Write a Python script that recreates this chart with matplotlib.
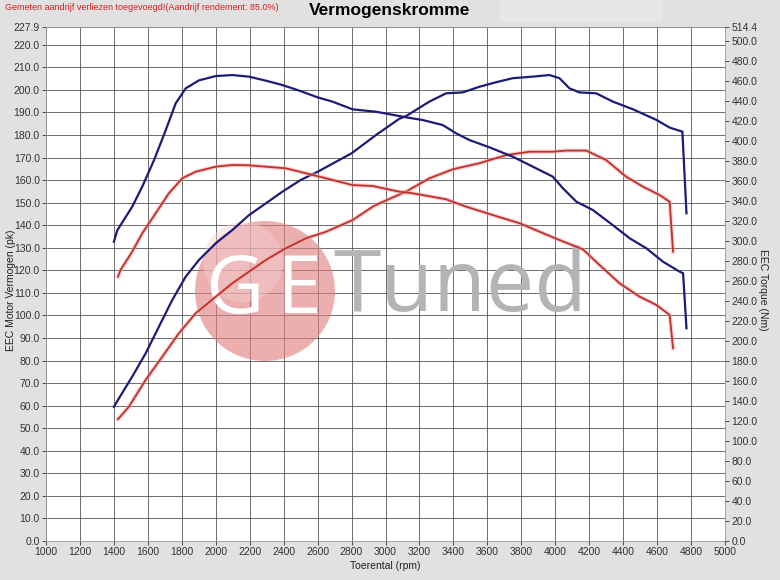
import numpy as np
import matplotlib
matplotlib.use("Agg")
import matplotlib.pyplot as plt
from matplotlib.patches import Ellipse, Rectangle

plt.rcParams['font.family'] = ['Liberation Sans', 'DejaVu Sans']

# tuned power (pk), left axis
tuned_pwr_rpm = [1400, 1430, 1508, 1587, 1665, 1744, 1823, 1901, 2000, 2098, 2196, 2295, 2393, 2501,
                 2600, 2800, 2944, 3081, 3121, 3258, 3357, 3455, 3553, 3651, 3750, 3868, 3966, 4025,
                 4084, 4143, 4241, 4340, 4458, 4596, 4674, 4749, 4773]
tuned_pwr = [59.5, 63.3, 72.9, 83.2, 95.0, 106.9, 117.2, 124.6, 132.0, 137.9, 144.5, 149.7, 154.9, 160.1,
             163.7, 171.9, 180.0, 187.2, 188.4, 194.8, 198.5, 198.9, 201.4, 203.4, 205.2, 205.9, 206.6, 205.2,
             200.7, 198.9, 198.5, 194.8, 191.4, 186.7, 183.3, 181.5, 145.3]

# tuned torque (Nm), right axis
tuned_trq_rpm = [1400, 1420, 1508, 1567, 1636, 1705, 1764, 1823, 1901, 2000, 2098, 2196, 2295, 2393,
                 2492, 2600, 2688, 2806, 2944, 3081, 3121, 3219, 3337, 3416, 3494, 3612, 3750, 3868,
                 3986, 4045, 4124, 4222, 4340, 4438, 4536, 4635, 4733, 4753, 4773]
tuned_trq = [299.5, 311.0, 334.6, 354.6, 381.0, 411.0, 438.0, 453.0, 461.0, 465.3, 466.3, 464.7, 460.7, 456.3,
             450.7, 444.0, 439.7, 432.0, 429.6, 425.3, 424.0, 421.3, 416.3, 408.0, 401.3, 394.0, 384.6, 374.6,
             364.6, 353.0, 339.6, 331.2, 316.0, 303.0, 293.0, 279.5, 269.5, 268.0, 212.9]

# stock power (pk), left axis
stock_pwr_rpm = [1424, 1488, 1587, 1685, 1783, 1882, 2000, 2098, 2196, 2295, 2413, 2531, 2649, 2806,
                 2924, 2963, 3121, 3258, 3396, 3553, 3711, 3849, 3986, 4065, 4183, 4300, 4418, 4517,
                 4615, 4674, 4694]
stock_pwr = [54.0, 59.5, 71.4, 81.7, 92.1, 101.0, 108.3, 114.3, 119.4, 124.6, 129.8, 134.2, 137.1, 142.3,
             148.2, 149.7, 154.9, 160.8, 164.8, 167.5, 171.1, 172.6, 172.6, 173.1, 173.1, 168.9, 161.5, 157.1,
             153.4, 150.4, 128.3]

# stock torque (Nm), right axis
stock_trq_rpm = [1424, 1439, 1508, 1567, 1646, 1724, 1803, 1882, 2000, 2098, 2196, 2295, 2413, 2531,
                 2649, 2806, 2924, 3081, 3160, 3357, 3475, 3632, 3790, 3908, 4025, 4163, 4261, 4379,
                 4497, 4596, 4674, 4694]
stock_trq = [264.5, 271.2, 289.6, 307.9, 328.0, 348.0, 363.0, 369.6, 374.6, 376.3, 376.0, 374.6, 373.0, 368.0,
             363.0, 356.2, 355.3, 349.6, 348.0, 342.0, 334.6, 326.2, 318.0, 309.5, 301.2, 291.9, 276.2, 257.9,
             244.5, 236.2, 226.2, 192.9]

pk_max = 227.9
nm_max = 514.4
pk_ticks = list(np.arange(0, 221, 10)) + [pk_max]
nm_ticks = list(np.arange(0, 501, 20)) + [nm_max]
rpm_ticks = np.arange(1000, 5001, 200)

W, H = 780, 580
fig = plt.figure(figsize=(W / 100, H / 100), dpi=100, facecolor='#e1e1e1')
ax = fig.add_axes([46 / W, 39 / H, 679 / W, 514 / H])
ax.set_facecolor('white')
ax.set_xlim(1000, 5000)
ax.set_ylim(0, pk_max)
ax.set_xticks(rpm_ticks)
ax.set_yticks(pk_ticks)
ax.set_yticklabels(['%.1f' % v for v in pk_ticks])
ax.grid(True, color='#555555', linewidth=0.6)
ax.set_axisbelow(True)
ax.tick_params(colors='#333333', labelsize=7.5, length=3, width=0.6, pad=1.5)
for s in ax.spines.values():
    s.set_color('#999999')
    s.set_linewidth(0.6)

ax2 = ax.twinx()
ax2.set_ylim(0, nm_max)
ax2.set_yticks(nm_ticks)
ax2.set_yticklabels(['%.1f' % v for v in nm_ticks])
ax2.tick_params(colors='#333333', labelsize=7.5, length=3, width=0.6, pad=1.5)
for s in ax2.spines.values():
    s.set_visible(False)

# watermark (pixel based, so the circle stays round)
circ = Ellipse((265 / W, 1 - 291 / H), 140 / W, 140 / H, transform=fig.transFigure,
               facecolor='#df7f7f', alpha=0.62, edgecolor='none', zorder=1)
circ.set_clip_on(False)
ax.add_artist(circ)
hl = Ellipse((243 / W, 1 - 262 / H), 80 / W, 80 / H, transform=fig.transFigure,
             facecolor='#f6d0d0', alpha=0.45, edgecolor='none', zorder=1)
hl.set_clip_on(False)
ax.add_artist(hl)
ax.text(234 / W, 1 - 292 / H, 'G', transform=fig.transFigure, fontsize=58, color='white',
        ha='center', va='center', family='Open Sans', fontweight='normal', zorder=2)
ax.text(298 / W, 1 - 292 / H, 'E', transform=fig.transFigure, fontsize=58, color='white',
        ha='center', va='center', family='Open Sans', fontweight='normal', zorder=2)
ax.text(333 / W, 1 - 289 / H, 'Tuned', transform=fig.transFigure, fontsize=62, color='#b4b4b4',
        ha='left', va='center', family='Open Sans', fontweight='normal', zorder=2)

navy = '#1c1c78'
red = '#c0302a'
ax.plot(tuned_pwr_rpm, tuned_pwr, color=navy, lw=1.6, zorder=5)
ax2.plot(tuned_trq_rpm, tuned_trq, color=navy, lw=1.6, zorder=5)
ax.plot(stock_pwr_rpm, stock_pwr, color='#f4a8a8', lw=3.0, alpha=0.55, zorder=4)
ax.plot(stock_pwr_rpm, stock_pwr, color=red, lw=1.3, zorder=5)
ax2.plot(stock_trq_rpm, stock_trq, color='#f4a8a8', lw=3.0, alpha=0.55, zorder=4)
ax2.plot(stock_trq_rpm, stock_trq, color=red, lw=1.3, zorder=5)

ax.set_xlabel('Toerental (rpm)', fontsize=7.5, color='#222222', labelpad=3)
fig.text(11 / W, 1 - 290 / H, 'EEC Motor Vermogen (pk)', rotation=90, fontsize=7.5,
         color='#222222', ha='center', va='center')
fig.text(763 / W, 1 - 290 / H, 'EEC Torque (Nm)', rotation=270, fontsize=7.5,
         color='#222222', ha='center', va='center')

fig.patches.append(Rectangle((500 / W, 1 - 22 / H), 162 / W, 22 / H, transform=fig.transFigure,
                             facecolor='#e9e6e6', edgecolor='none', zorder=0))
fig.text(390 / W, 1 - 11 / H, 'Vermogenskromme', fontsize=12.5, fontweight='bold',
         ha='center', va='center', color='black')
fig.text(5 / W, 1 - 8 / H, 'Gemeten aandrijf verliezen toegevoegd!(Aandrijf rendement: 85.0%)',
         fontsize=6.5, color='#d22020', ha='left', va='center')

fig.savefig('out.png', dpi=100, facecolor=fig.get_facecolor())
